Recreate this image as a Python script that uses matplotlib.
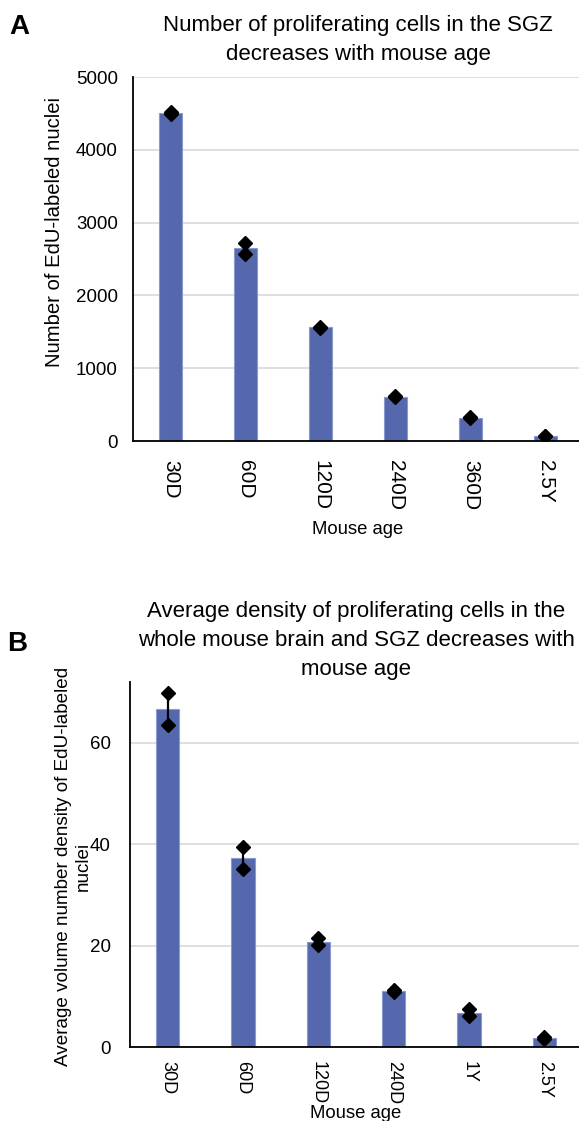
import matplotlib
matplotlib.use('Agg')
import matplotlib.pyplot as plt
import numpy as np

plt.rcParams['font.family'] = ['Liberation Sans', 'DejaVu Sans']

# panel A data
ages_a = ['30D', '60D', '120D', '240D', '360D', '2.5Y']
mean_a = [4505, 2645, 1560, 610, 315, 70]
pts_a = [[4525, 4495], [2725, 2565], [1570, 1555], [620, 605], [325, 310], [72, 66]]

# panel B data
ages_b = ['30D', '60D', '120D', '240D', '1Y', '2.5Y']
mean_b = [66.7, 37.3, 20.8, 11.0, 6.7, 1.7]
pts_b = [[69.9, 63.6], [39.4, 35.1], [21.6, 20.1], [11.3, 10.8], [7.4, 6.1], [2.0, 1.5]]

BAR = '#5568ad'
EDGE = '#8a9ad0'
W, H = 579, 1121


def draw_panel(ax, ages, means, pts, ymax, yticks, tick_size, ypad):
    x = np.arange(len(ages))
    ax.bar(x, means, width=0.31, color=BAR, edgecolor=EDGE, linewidth=0.8, zorder=2)
    err = [(max(p) - min(p)) / 2 for p in pts]
    ax.errorbar(x, means, yerr=err, fmt='none', ecolor='black', elinewidth=1.6,
                capsize=0, zorder=3)
    for i, p in enumerate(pts):
        ax.plot([i] * len(p), p, 'D', color='black', ms=7, zorder=4)
    ax.set_xlim(-0.5, len(ages) - 0.5)
    ax.set_ylim(0, ymax)
    ax.set_yticks(yticks)
    ax.set_xticks(x)
    ax.set_xticklabels(ages, rotation=-90, fontsize=tick_size)
    ax.tick_params(axis='y', labelsize=13.5, length=0, pad=ypad)
    ax.tick_params(axis='x', length=0, pad=14)
    ax.grid(axis='y', color='#d9d9d9', linewidth=1.2, zorder=0)
    ax.set_axisbelow(True)
    for s in ['top', 'right']:
        ax.spines[s].set_visible(False)
    for s in ['left', 'bottom']:
        ax.spines[s].set_linewidth(1.3)
        ax.spines[s].set_zorder(5)


fig = plt.figure(figsize=(W / 100, H / 100), dpi=100)

# panel A
ax1 = fig.add_axes([133 / W, 1 - 441 / H, 450 / W, 364 / H])
draw_panel(ax1, ages_a, mean_a, pts_a, 5000, [0, 1000, 2000, 3000, 4000, 5000], 15, 11)
fig.text(358 / W, 1 - 40 / H, 'Number of proliferating cells in the SGZ\ndecreases with mouse age',
         ha='center', va='center', fontsize=16, linespacing=1.5)
fig.text(55 / W, 1 - 232 / H, 'Number of EdU-labeled nuclei', rotation=90,
         ha='center', va='center', fontsize=14.6)
fig.text(358 / W, 1 - 529 / H, 'Mouse age', ha='center', va='center', fontsize=13.3)
fig.text(19 / W, 1 - 27 / H, 'A', ha='center', va='center', fontsize=20, fontweight='bold')

# panel B
ax2 = fig.add_axes([130 / W, 1 - 1047 / H, 452 / W, 365 / H])
draw_panel(ax2, ages_b, mean_b, pts_b, 72, [0, 20, 40, 60], 13, 14)
ax2.tick_params(axis='x', pad=10)
fig.text(356 / W, 1 - 640 / H,
         'Average density of proliferating cells in the\nwhole mouse brain and SGZ decreases with\nmouse age',
         ha='center', va='center', fontsize=16, linespacing=1.5)
fig.text(73 / W, 1 - 866 / H, 'Average volume number density of EdU-labeled\nnuclei', rotation=90,
         ha='center', va='center', fontsize=13.6)
fig.text(356 / W, 1 - 1113 / H, 'Mouse age', ha='center', va='center', fontsize=13.3)
fig.text(17 / W, 1 - 644 / H, 'B', ha='center', va='center', fontsize=20, fontweight='bold')

fig.savefig('out.png', dpi=100)
